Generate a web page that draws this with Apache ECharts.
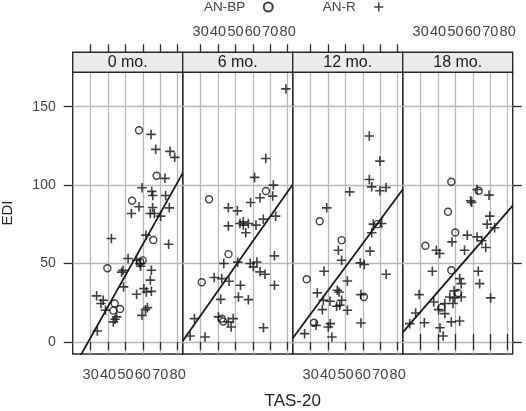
<!DOCTYPE html>
<html>
<head>
<meta charset="utf-8">
<script src="https://cdn.jsdelivr.net/npm/echarts@6/dist/echarts.min.js"></script>
<style>html,body{margin:0;padding:0;background:#fff}#c{width:526px;height:411px}</style>
</head>
<body>
<div id="c"></div>
<script>
// ---- data ----
const panels = ['0 mo.', '6 mo.', '12 mo.', '18 mo.'];
const xTicks = [30, 40, 50, 60, 70, 80];
const yTicks = [0, 50, 100, 150];
const xRange = [19.66, 82.9];
const yRange = [-7.65, 171.9];

const bp0 = [[57.8,135],[67.9,106],[53.8,90],[66,65],[59.9,52],[58.5,51],[39.6,47],[43.8,24.5],[43,20],[46.9,21]];
const r0 = [[64.7,132.3],[67.4,122.8],[75.6,121.5],[78.3,117.7],[72.7,104.3],[59.5,98.3],[65.1,96],[65.7,93.4],[73.1,93.4],[57.8,86.2],[75.2,85.5],[53.4,81.9],[65.6,85.7],[64.3,81.9],[66.6,81.9],[70.2,80.2],[41.9,66],[61.8,68.1],[74.8,62.3],[51.5,53.2],[56.4,52.1],[58.4,50],[58.7,48.3],[48.6,45.7],[47.8,44.5],[64.9,45.7],[64.3,39.4],[64.9,32.3],[48.9,35.1],[60.6,34],[56.4,30.4],[62,31.9],[33.4,29.4],[37.2,26.6],[35.9,24.5],[38.5,20.2],[62.6,21.9],[61.5,20.6],[59.5,17],[44.9,16],[43,12.8],[44,14.5],[33.8,7]];

const bp6 = [[34.8,91],[67.5,96.2],[46,56],[30.6,38.1],[42.1,14.9],[43,13]];
const r6 = [[79,161.3],[67.4,117],[61,104.9],[71.8,100],[71.4,93],[64.1,91.9],[58.7,88.9],[45.9,85.5],[51.1,83.6],[73.1,80.2],[66,78.3],[54.5,76.6],[52.6,75.5],[57.4,75.5],[61.8,74.5],[45.9,74],[54.5,74.5],[55.9,69.6],[72.4,54.9],[43.3,50],[51.3,50.9],[58.5,50],[62.3,51],[60.3,47.9],[64.1,44.7],[67,43.2],[37.8,41.1],[42.1,40.4],[46.3,38.7],[72.4,36.2],[52.9,36.2],[41.5,27.2],[51.7,28.7],[57.4,27],[26.4,14.9],[40.2,16],[48.7,14.9],[45.9,12.8],[47.5,9.6],[66.1,9.1],[23.9,3.8],[32.5,3.2]];

const bp12 = [[35.2,77],[47.8,64.9],[27.7,40],[31.9,12.3],[60.6,28.7],[68.3,75.1]];
const r12 = [[63.7,131.3],[69.8,115.3],[63.7,103.6],[65.1,98.9],[73.3,98.5],[69.8,96.4],[52.4,95.7],[39.2,85.5],[66,75.1],[70.8,75.5],[65.1,69.6],[45.9,58.5],[64.1,57.9],[47.8,52.1],[58.5,50.4],[60.8,49.4],[37.7,45.1],[73.4,43.2],[51.1,38.9],[33.8,31.3],[45.3,33],[46.3,31.9],[58.9,30.2],[37.3,26.6],[41.1,26],[47.8,26.6],[44.9,22.8],[46.7,23.4],[36.7,20.6],[51.1,20.2],[41.3,11.7],[58.9,12.1],[33.1,10.6],[40.1,9.6],[42.2,3.2],[26.5,5.3]];

const bp18 = [[47.6,102.1],[63.3,96.4],[45.7,83],[49.9,69.8],[32.7,61.3],[47.6,45.7],[41.9,21.9],[51.5,31.3]];
const r18 = [[62.4,97.2],[69.3,93.6],[58.7,90],[59.3,89],[69.7,80.2],[68.2,75.1],[72.5,72.8],[56.8,68.1],[62.4,67],[48,63.8],[65.2,64.5],[67.4,60.2],[39,58.5],[40.9,56.4],[55.2,58.5],[36.7,45.1],[52.4,40.4],[53.3,37.2],[63.1,45.1],[63.9,37.2],[29.1,30.2],[49.2,32.6],[46.7,28.7],[49.5,28.1],[53.3,28.7],[70.2,28.1],[37.5,25.5],[43.9,24.5],[48.6,24.5],[40.3,20.6],[43.9,18.1],[27.1,18.5],[32.1,12.3],[47.6,12.8],[52.4,13.4],[41.1,9.1],[42.9,3.8],[23.7,11.7]];

const fitIntercept = [-56.5, -30.4, -27.1, -18.9];
const fitSlope = [1.98, 1.577, 1.50, 1.276];

const bpData = [bp0, bp6, bp12, bp18];
const rData = [r0, r6, r12, r18];

// ---- layout ----
const FONT = 'Liberation Sans, Arial, sans-serif';
const INK = '#111';
const gLeft = 72.7, gW = 110, gTop = 72.3, gH = 281.7, stripH = 20;
const PLUS = 'path://M-0.17,-1L0.17,-1L0.17,-0.17L1,-0.17L1,0.17L0.17,0.17L0.17,1L-0.17,1L-0.17,0.17L-1,0.17L-1,-0.17L-0.17,-0.17Z';

const grids = [], xAxes = [], yAxes = [], series = [], graphics = [];
panels.forEach((p, k) => {
  const L = gLeft + gW * k;
  grids.push({left: L, top: gTop, width: gW, height: gH, show: true,
    borderColor: '#2a2a2a', borderWidth: 1.4, backgroundColor: 'transparent'});
  const tickStyle = {show: true, inside: false, length: 8, customValues: xTicks, lineStyle: {color: '#2a2a2a', width: 1.3}};
  xAxes.push({type: 'value', gridIndex: k, position: 'bottom', min: xRange[0], max: xRange[1],
    axisLine: {show: false}, axisTick: tickStyle,
    axisLabel: {show: k % 2 === 0, customValues: xTicks, margin: 13, fontFamily: FONT, fontSize: 14.5, color: '#444'},
    splitLine: {show: true, lineStyle: {color: '#b8b8b8', width: 1.3}}});
  yAxes.push({type: 'value', gridIndex: k, position: 'left', min: yRange[0], max: yRange[1],
    axisLine: {show: false},
    axisTick: {show: k === 0, inside: false, length: 9, customValues: yTicks, lineStyle: {color: '#2a2a2a', width: 1.3}},
    axisLabel: {show: k === 0, customValues: yTicks, margin: 17, fontFamily: FONT, fontSize: 14, color: '#444'},
    splitLine: {show: true, lineStyle: {color: '#b8b8b8', width: 1.3}}});
  graphics.push({type: 'rect', shape: {x: L, y: gTop - stripH, width: gW, height: stripH},
    style: {fill: '#ebebeb', stroke: '#2a2a2a', lineWidth: 1.4}, z: 10});
  graphics.push({type: 'text', x: L + gW / 2, y: gTop - stripH / 2 + 0.5,
    style: {text: p, fontFamily: FONT, fontSize: 16, fill: '#1a1a1a', align: 'center', verticalAlign: 'middle'}, z: 11});
});
panels.forEach((p, k) => {
  xAxes.push({type: 'value', gridIndex: k, position: 'top', offset: stripH, min: xRange[0], max: xRange[1],
    axisLine: {show: false},
    axisTick: {show: true, inside: false, length: 8, customValues: xTicks, lineStyle: {color: '#2a2a2a', width: 1.3}},
    axisLabel: {show: k % 2 === 1, customValues: xTicks, margin: 13, fontFamily: FONT, fontSize: 14.5, color: '#444'},
    splitLine: {show: false}});
});
yAxes.push({type: 'value', gridIndex: 3, position: 'right', min: yRange[0], max: yRange[1],
  axisLine: {show: false},
  axisTick: {show: true, inside: false, length: 9, customValues: yTicks, lineStyle: {color: '#2a2a2a', width: 1.3}},
  axisLabel: {show: false}, splitLine: {show: false}});

panels.forEach((p, k) => {
  series.push({name: 'AN-BP', type: 'scatter', xAxisIndex: k, yAxisIndex: k, data: bpData[k],
    symbol: 'circle', symbolSize: 7, symbolKeepAspect: true,
    itemStyle: {color: 'rgba(0,0,0,0)', borderColor: INK, borderWidth: 1.4}, z: 3});
  series.push({name: 'AN-R', type: 'scatter', xAxisIndex: k, yAxisIndex: k, data: rData[k],
    symbol: PLUS, symbolSize: 9.5, symbolKeepAspect: true,
    itemStyle: {color: INK}, z: 3});
  const a = fitIntercept[k], b = fitSlope[k];
  series.push({name: 'fit ' + p, type: 'line', xAxisIndex: k, yAxisIndex: k, clip: true,
    data: [[xRange[0], a + b * xRange[0]], [xRange[1], a + b * xRange[1]]],
    symbol: 'none', lineStyle: {color: '#1a1a1a', width: 1.8}, z: 4, silent: true});
});

graphics.push({type: 'text', x: gLeft + gW * 2, y: 401.5,
  style: {text: 'TAS-20', fontFamily: FONT, fontSize: 17, fill: '#222', align: 'center', verticalAlign: 'middle'}});
graphics.push({type: 'text', x: 7.5, y: 213, rotation: Math.PI / 2,
  style: {text: 'EDI', fontFamily: FONT, fontSize: 15, fill: '#222', align: 'center', verticalAlign: 'middle'}});

const chart = echarts.init(document.getElementById('c'), null, {renderer: 'canvas'});
chart.setOption({
  animation: false,
  backgroundColor: '#fff',
  legend: {data: ['AN-BP', 'AN-R'], top: -5, left: 199, align: 'right', itemWidth: 36, itemHeight: 9,
    itemGap: 49, textStyle: {fontFamily: FONT, fontSize: 13.5, color: '#444'}},
  grid: grids, xAxis: xAxes, yAxis: yAxes, series: series, graphic: graphics
});
</script>
</body>
</html>
